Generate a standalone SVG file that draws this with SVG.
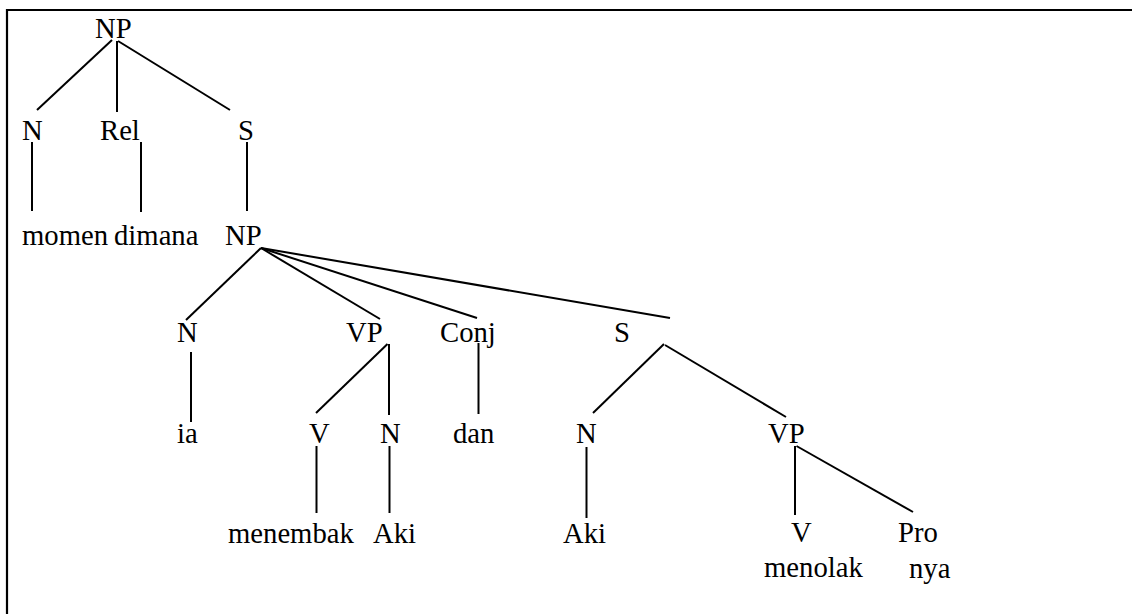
<svg xmlns="http://www.w3.org/2000/svg" width="1132" height="614" viewBox="0 0 1132 614">
  <style>
    .lbl { font-family: "Liberation Serif", "Times New Roman", Times, serif; font-size: 28.7px; fill: #000; }
    .edge { stroke: #000; stroke-width: 2; fill: none; }
    .frame { stroke: #000; stroke-width: 2.2; fill: none; }
  </style>
  <rect width="1132" height="614" fill="#fff"/>
  <path class="frame" d="M7,614 V10 H1132"/>

  <g id="connectors">
    <line class="edge" x1="112" y1="40" x2="37" y2="110"/>
    <line class="edge" x1="117" y1="41" x2="117" y2="112"/>
    <line class="edge" x1="118" y1="41" x2="230" y2="110"/>
    <line class="edge" x1="32" y1="142" x2="32" y2="211"/>
    <line class="edge" x1="141" y1="142" x2="141" y2="212"/>
    <line class="edge" x1="247" y1="142" x2="247" y2="211"/>
    <line class="edge" x1="261" y1="248" x2="186" y2="320"/>
    <line class="edge" x1="261" y1="248" x2="380" y2="319"/>
    <line class="edge" x1="261" y1="248" x2="477" y2="318"/>
    <line class="edge" x1="261" y1="248" x2="670" y2="318"/>
    <line class="edge" x1="191" y1="352" x2="191" y2="422"/>
    <line class="edge" x1="387.5" y1="344" x2="316" y2="413"/>
    <line class="edge" x1="389" y1="344" x2="389" y2="415"/>
    <line class="edge" x1="478.5" y1="343" x2="478.5" y2="414"/>
    <line class="edge" x1="664" y1="344" x2="593" y2="413"/>
    <line class="edge" x1="665" y1="345" x2="786" y2="417"/>
    <line class="edge" x1="316.5" y1="446" x2="316.5" y2="513"/>
    <line class="edge" x1="389.5" y1="446" x2="389.5" y2="513"/>
    <line class="edge" x1="586.5" y1="447" x2="586.5" y2="518"/>
    <line class="edge" x1="795" y1="446" x2="795" y2="515"/>
    <line class="edge" x1="796.5" y1="446" x2="913" y2="512"/>
  </g>

  <g id="np-root"><text class="lbl" x="95" y="38">NP</text></g>
  <g id="n-1"><text class="lbl" x="22" y="140">N</text></g>
  <g id="rel"><text class="lbl" x="100" y="140">Rel</text></g>
  <g id="s-1"><text class="lbl" x="238" y="140">S</text></g>
  <g id="momen"><text class="lbl" x="22" y="245">momen</text></g>
  <g id="dimana"><text class="lbl" x="114" y="245">dimana</text></g>
  <g id="np-2"><text class="lbl" x="225" y="245">NP</text></g>

  <g id="n-2"><text class="lbl" x="177" y="342">N</text></g>
  <g id="vp-1"><text class="lbl" x="346" y="342">VP</text></g>
  <g id="conj"><text class="lbl" x="440" y="342">Conj</text></g>
  <g id="s-2"><text class="lbl" x="614" y="342">S</text></g>

  <g id="ia"><text class="lbl" x="177" y="443">ia</text></g>
  <g id="v-1"><text class="lbl" x="309" y="443">V</text></g>
  <g id="n-3"><text class="lbl" x="380" y="443">N</text></g>
  <g id="dan"><text class="lbl" x="453" y="443">dan</text></g>
  <g id="n-4"><text class="lbl" x="576" y="443">N</text></g>
  <g id="vp-2"><text class="lbl" x="768" y="443">VP</text></g>

  <g id="menembak"><text class="lbl" x="228" y="543">menembak</text></g>
  <g id="aki-1"><text class="lbl" x="373" y="543">Aki</text></g>
  <g id="aki-2"><text class="lbl" x="563" y="543">Aki</text></g>
  <g id="v-2"><text class="lbl" x="791" y="542">V</text></g>
  <g id="pro"><text class="lbl" x="898" y="542">Pro</text></g>
  <g id="menolak"><text class="lbl" x="764" y="577">menolak</text></g>
  <g id="nya"><text class="lbl" x="909" y="578">nya</text></g>
</svg>
